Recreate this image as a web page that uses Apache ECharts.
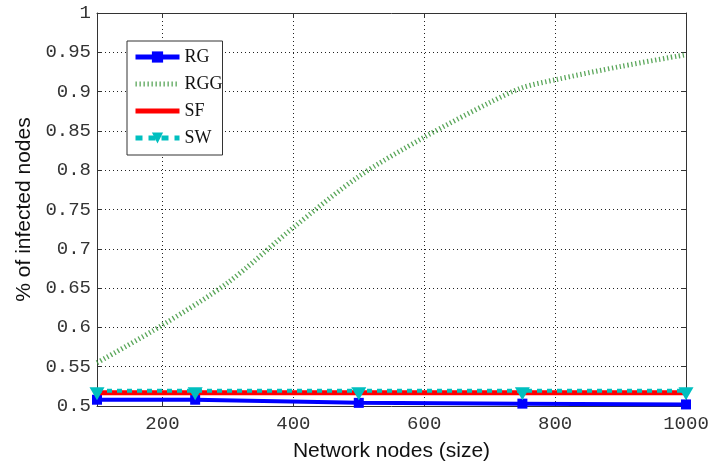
<!DOCTYPE html>
<html>
<head>
<meta charset="utf-8">
<script src="https://cdn.jsdelivr.net/npm/echarts@6/dist/echarts.min.js"></script>
<style>html,body{margin:0;padding:0;background:#fff}#c{width:709px;height:462px}</style>
</head>
<body>
<div id="c"></div>
<script>
// ---- data ----
var markerX = [100, 250, 500, 750, 1000];
var rgValues = [0.508, 0.508, 0.504, 0.503, 0.502];
var sfValues = [0.517, 0.517, 0.517, 0.517, 0.517];
var swValues = [0.5195, 0.5195, 0.5195, 0.5195, 0.5195];
var rggX = [100, 200, 300, 400, 500, 600, 700, 750, 800, 900, 1000];
var rggValues = [0.555, 0.603, 0.657, 0.727, 0.792, 0.842, 0.886, 0.905, 0.915, 0.932, 0.947];
var xTickValues = [200, 400, 600, 800, 1000];
var yTickLabels = ['0.5', '0.55', '0.6', '0.65', '0.7', '0.75', '0.8', '0.85', '0.9', '0.95', '1'];
var seriesNames = ['RG', 'RGG', 'SF', 'SW'];

function pairs(xs, ys) { return xs.map(function (x, i) { return [x, ys[i]]; }); }

var chart = echarts.init(document.getElementById('c'));
var gridLine = { show: true, lineStyle: { color: '#222', type: [1, 3], width: 1 } };
var tickFont = { fontFamily: 'Liberation Mono', fontSize: 19, color: '#333' };
var hidden = { color: 'rgba(0,0,0,0)', borderWidth: 0 };
chart.setOption({
  animation: false,
  backgroundColor: '#fff',
  grid: { left: 97, right: 23, top: 13, bottom: 56, containLabel: false, outerBoundsMode: 'none' },
  legend: {
    orient: 'vertical', left: 127, top: 41,
    data: [
      { name: seriesNames[0], lineStyle: { width: 5 } },
      { name: seriesNames[1], lineStyle: { width: 5 }, itemStyle: hidden },
      { name: seriesNames[2], lineStyle: { width: 5 }, itemStyle: hidden },
      { name: seriesNames[3], lineStyle: { width: 5, type: [7, 6] } }
    ],
    backgroundColor: '#fff',
    borderColor: '#333', borderWidth: 1,
    padding: [7, 0, 8, 6],
    itemWidth: 44, itemHeight: 14, itemGap: 9,
    textStyle: { fontFamily: 'Liberation Serif', fontSize: 18, color: '#111' }
  },
  xAxis: [{
    type: 'value', min: 100, max: 1000, position: 'bottom',
    name: 'Network nodes (size)', nameLocation: 'middle', nameGap: 35,
    nameTextStyle: { fontFamily: 'Liberation Sans', fontSize: 21, color: '#111' },
    axisLine: { show: true, lineStyle: { color: '#333', width: 1 } },
    axisTick: { show: true, inside: true, length: 5, customValues: xTickValues, lineStyle: { color: '#333' } },
    axisLabel: Object.assign({ customValues: xTickValues, margin: 8, formatter: function (v) { return String(v); } }, tickFont),
    splitLine: gridLine
  }, {
    type: 'value', min: 100, max: 1000, position: 'top',
    axisLine: { show: true, lineStyle: { color: '#333', width: 1 } },
    axisTick: { show: true, inside: true, length: 5, customValues: xTickValues, lineStyle: { color: '#333' } },
    axisLabel: { show: false },
    splitLine: { show: false }
  }],
  yAxis: [{
    type: 'value', min: 0.5, max: 1, interval: 0.05, position: 'left',
    name: '% of infected nodes', nameLocation: 'middle', nameGap: 62,
    nameTextStyle: { fontFamily: 'Liberation Sans', fontSize: 21, color: '#111' },
    axisLine: { show: true, lineStyle: { color: '#333', width: 1 } },
    axisTick: { show: true, inside: true, length: 5, lineStyle: { color: '#333' } },
    axisLabel: Object.assign({ margin: 6, formatter: function (v) {
      var idx = Math.round((v - 0.5) / 0.05); return yTickLabels[idx];
    } }, tickFont),
    splitLine: gridLine
  }, {
    type: 'value', min: 0.5, max: 1, interval: 0.05, position: 'right',
    axisLine: { show: true, lineStyle: { color: '#333', width: 1 } },
    axisTick: { show: true, inside: true, length: 5, lineStyle: { color: '#333' } },
    axisLabel: { show: false },
    splitLine: { show: false }
  }],
  series: [{
    name: 'RG', type: 'line', data: pairs(markerX, rgValues),
    symbol: 'rect', symbolSize: 10, showSymbol: true,
    lineStyle: { color: '#0000ff', width: 4 },
    itemStyle: { color: '#0000ff' }, z: 2
  }, {
    name: 'RGG', type: 'line', data: pairs(rggX, rggValues), smooth: 0.3,
    symbol: 'none',
    lineStyle: { color: '#3d963d', width: 5, type: [1.3, 2.7], opacity: 0.85 },
    itemStyle: { color: '#3d963d' }, z: 3
  }, {
    name: 'SF', type: 'line', data: pairs(markerX, sfValues),
    symbol: 'none',
    lineStyle: { color: '#ff0000', width: 5 },
    itemStyle: { color: '#ff0000' }, z: 4
  }, {
    name: 'SW', type: 'line', data: pairs(markerX, swValues),
    symbol: 'triangle', symbolRotate: 180, symbolSize: [15, 13], symbolOffset: [0, 3],
    lineStyle: { color: '#00bfbf', width: 4, type: [5, 5] },
    itemStyle: { color: '#00bfbf' }, z: 5
  }]
});
</script>
</body>
</html>
